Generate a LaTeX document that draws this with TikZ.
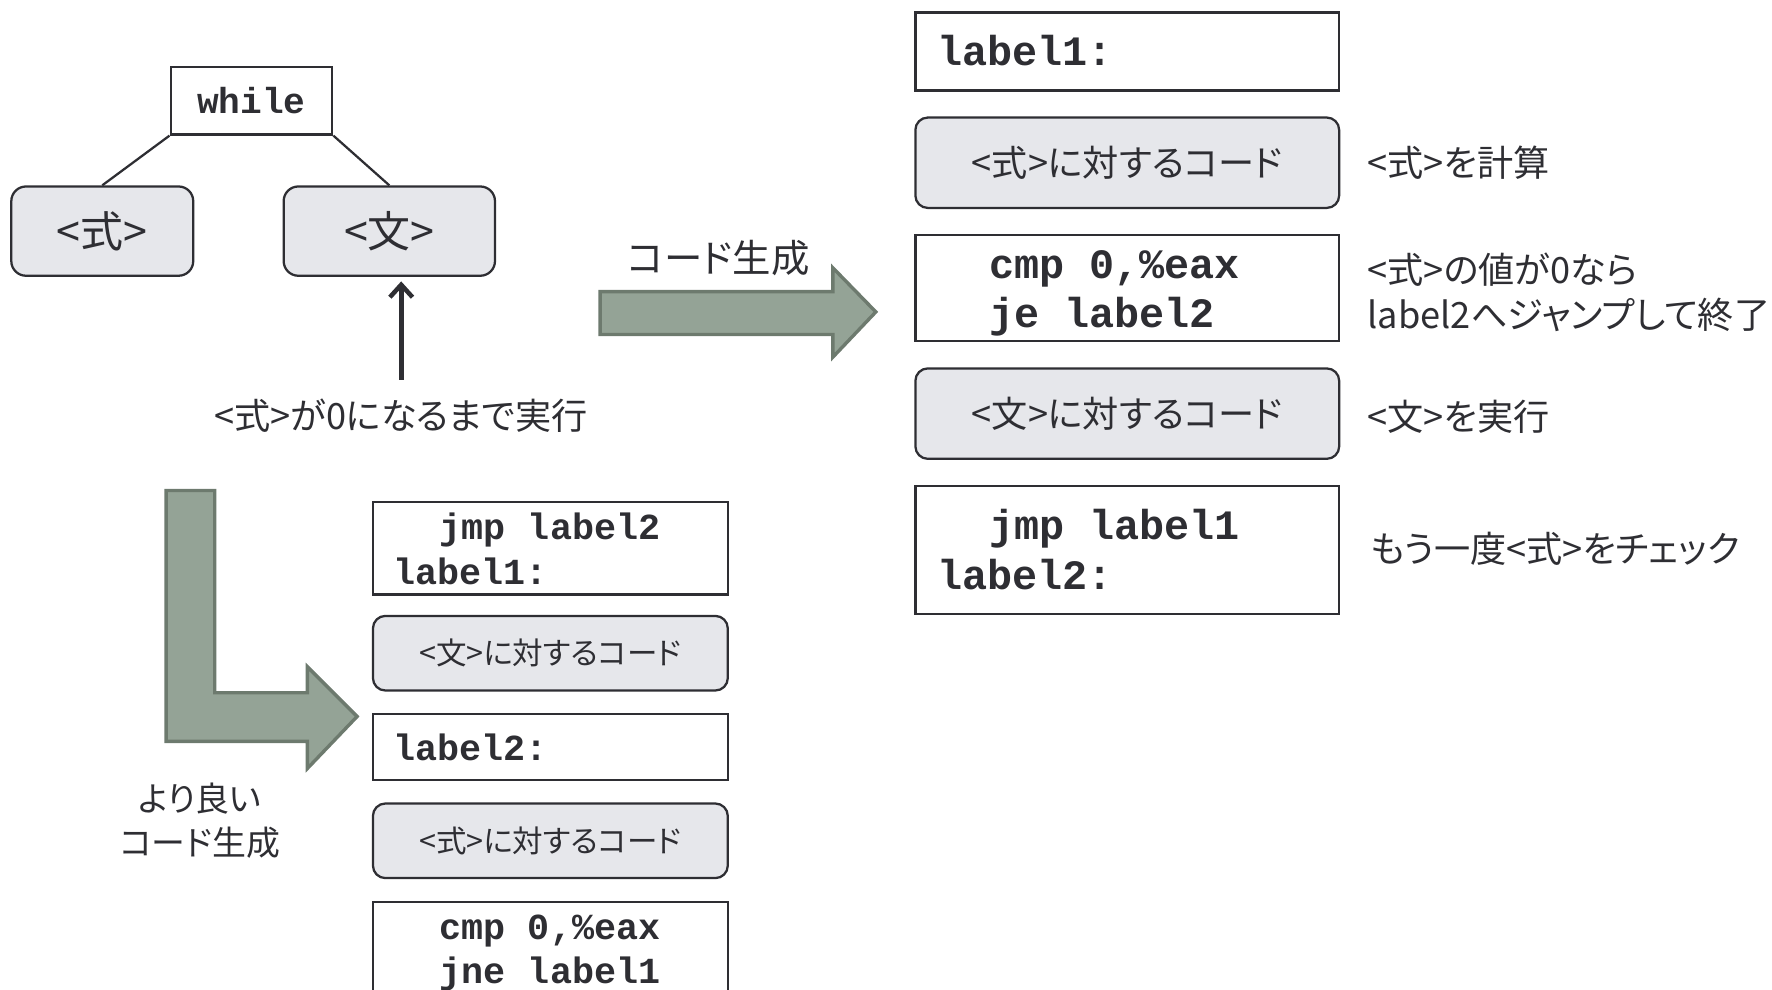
\documentclass[tikz,border=0pt]{standalone}
\usepackage{fontspec}
\setmainfont{Noto Sans CJK JP}
\newfontfamily\jp{Noto Sans CJK JP}[RawFeature=+palt]
\newfontfamily\cmono{Liberation Mono}
\usetikzlibrary{arrows.meta}
\definecolor{edge}{HTML}{2E2E33}
\definecolor{boxgray}{HTML}{E6E7EB}
\definecolor{arrowfill}{HTML}{94A396}
\definecolor{arrowedge}{HTML}{6D7A6E}
\tikzset{
  plainbox/.style={draw=edge, line width=2pt, fill=white, inner sep=0pt},
  roundbox/.style={draw=edge, line width=2pt, fill=boxgray, rounded corners=11pt, inner sep=0pt},
  codeL/.style={font=\cmono\bfseries\fontsize{37}{40}\selectfont, inner sep=0pt, anchor=base west, text=edge},
  codeS/.style={font=\cmono\bfseries\fontsize{32.5}{36}\selectfont, inner sep=0pt, anchor=base west, text=edge},
  jtext/.style={font=\jp\fontsize{32}{40}\selectfont, inner sep=0pt, text=edge},
  bigarrow/.style={fill=arrowfill, draw=arrowedge, line width=3pt, line join=miter},
}
\begin{document}
\begin{tikzpicture}[x=1pt, y=-1pt]
\useasboundingbox (0,0) rectangle (1568,876);
\clip (0,0) rectangle (1568,876);
% tree
\node[plainbox, minimum width=143pt, minimum height=60pt, font=\cmono\bfseries\fontsize{32}{36}\selectfont, text=edge] (while) at (222.5,89) {while};
\node[roundbox, rounded corners=13pt, minimum width=161pt, minimum height=79pt, font=\jp\fontsize{38}{40}\selectfont, text=edge] (shiki) at (90.5,204.5) {<式>};
\node[roundbox, rounded corners=13pt, minimum width=187pt, minimum height=79pt, font=\jp\fontsize{38}{40}\selectfont, text=edge] (bun) at (344.5,204.5) {<文>};
\draw[edge, line width=2pt] (while.south west) -- (shiki.north);
\draw[edge, line width=2pt] (while.south east) -- (bun.north);
\node[jtext] (cond) at (355,368) {<式>が0になるまで実行};
\draw[edge, line width=4.5pt, -{Straight Barb[length=11pt,width=20pt,line width=4pt]}]
  ([yshift=17pt]cond.north) -- ([yshift=-4pt]cond.north |- bun.south);
% big right arrow
\node[jtext, font=\jp\fontsize{34}{40}\selectfont] (gen) at (636,228) {コード生成};
\draw[bigarrow] (531,258) -- (737,258) -- (737,237) -- (775,276) -- (737,316) -- (737,296) -- (531,296) -- cycle;
% right column
\node[plainbox, minimum width=375pt, minimum height=69pt] (r1) at (997.5,45.5) {};
\node[codeL] (r1t) at (829,58) {label1:};
\node[roundbox, minimum width=375pt, minimum height=80pt, font=\jp\fontsize{32}{36}\selectfont, text=edge] (r2) at (997.5,144) {<式>に対するコード};
\node[plainbox, minimum width=375pt, minimum height=94pt] (r3) at (997.5,255) {};
\node[codeL] (r3a) at (875,246) {cmp 0,\%eax};
\node[codeL] (r3b) at (875,290) {je label2};
\node[roundbox, minimum width=375pt, minimum height=80pt, font=\jp\fontsize{32}{36}\selectfont, text=edge] (r4) at (997.5,366) {<文>に対するコード};
\node[plainbox, minimum width=375pt, minimum height=113pt] (r5) at (997.5,486.5) {};
\node[codeL] (r5a) at (875,477) {jmp label1};
\node[codeL] (r5b) at (829,522) {label2:};
% annotations
\node[jtext, anchor=west] (a1) at (1210,144) {<式>を計算};
\node[jtext, anchor=west, align=left] (a2) at (1210,259) {<式>の値が0なら\\label2へジャンプして終了};
\node[jtext, anchor=west] (a3) at (1210,369) {<文>を実行};
\node[jtext, anchor=west] (a4) at (1213,486) {もう一度<式>をチェック};
% L arrow
\draw[bigarrow] (147,434) -- (190,434) -- (190,613) -- (272,613) -- (272,590) -- (316,634) -- (272,680) -- (272,656) -- (147,656) -- cycle;
\node[jtext, font=\jp\fontsize{30}{39}\selectfont, align=center] (better) at (177,726) {より良い\\コード生成};
% bottom column
\node[plainbox, minimum width=314pt, minimum height=82pt] (b1) at (487,485) {};
\node[codeS] (b1a) at (389,477) {jmp label2};
\node[codeS] (b1b) at (348,517) {label1:};
\node[roundbox, minimum width=314pt, minimum height=66pt, font=\jp\fontsize{27}{32}\selectfont, text=edge] (b2) at (487,578) {<文>に対するコード};
\node[plainbox, minimum width=314pt, minimum height=58pt] (b3) at (487,661) {};
\node[codeS] (b3a) at (348,673) {label2:};
\node[roundbox, minimum width=314pt, minimum height=66pt, font=\jp\fontsize{27}{32}\selectfont, text=edge] (b4) at (487,744) {<式>に対するコード};
\node[plainbox, minimum width=314pt, minimum height=110pt] (b5) at (487,853) {};
\node[codeS] (b5a) at (389,831) {cmp 0,\%eax};
\node[codeS] (b5b) at (389,870) {jne label1};
\end{tikzpicture}
\end{document}
